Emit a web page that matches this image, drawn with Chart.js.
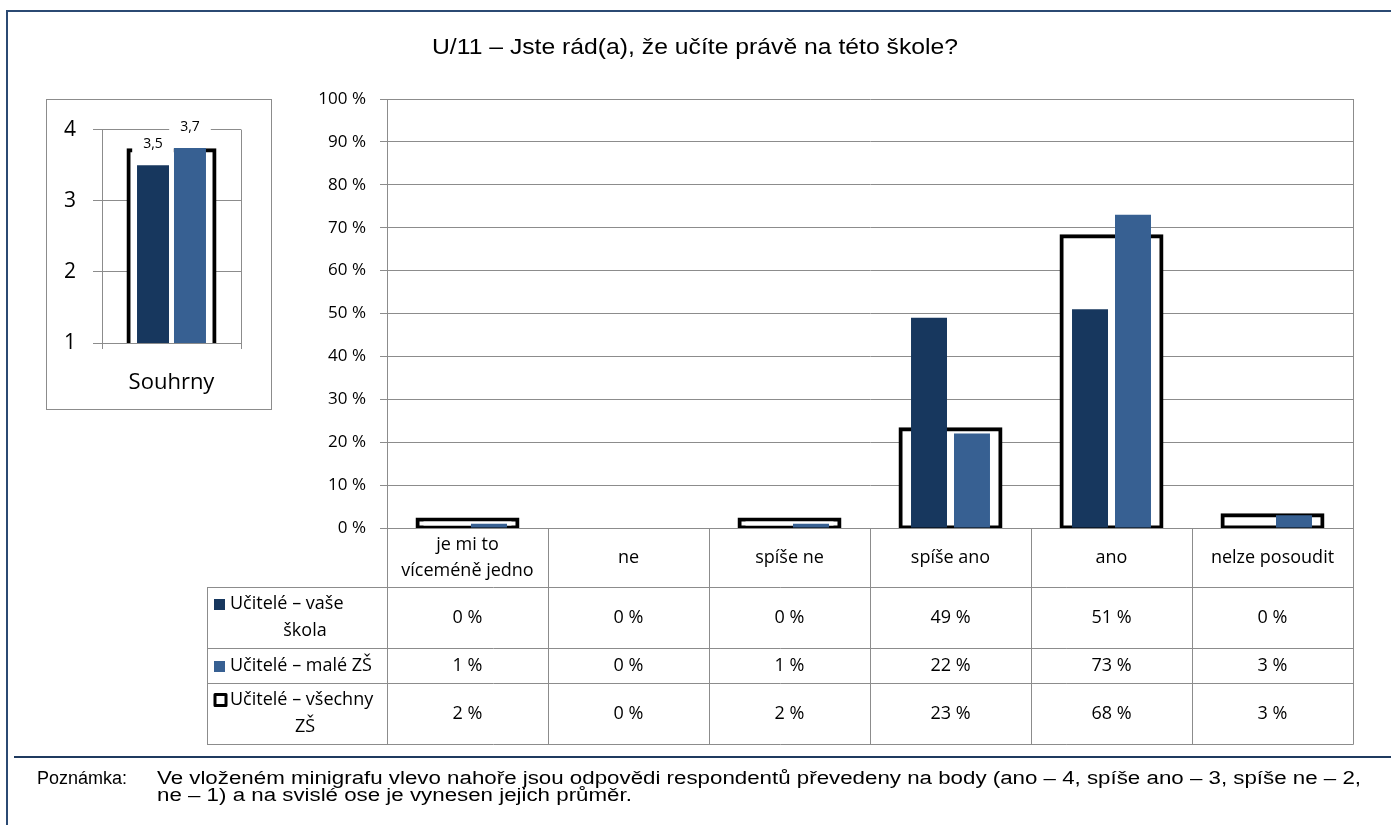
<!DOCTYPE html>
<html>
<head>
<meta charset="utf-8">
<script src="https://cdn.jsdelivr.net/npm/chart.js@4.4.1/dist/chart.umd.min.js"></script>
<style>
html,body{margin:0;padding:0;background:#fff;}
body{width:1391px;height:825px;position:relative;overflow:hidden;}
#main{position:absolute;left:0;top:0;}
#miniWrap{position:absolute;left:46px;top:99px;width:224px;height:309px;border:1px solid #8c8c8c;background:#fff;}
#mini{display:block;}
.frame{position:absolute;background:#2b4a73;}
.txt{position:absolute;white-space:nowrap;color:#000;font-family:"Liberation Sans",Arial,sans-serif;transform-origin:0 50%;}
#title{font-size:22px;line-height:28px;top:33px;}
.note{font-size:18px;line-height:17px;}
</style>
</head>
<body>
<canvas id="main" width="1391" height="825"></canvas>
<div id="miniWrap"><canvas id="mini" width="224" height="309"></canvas></div>
<div class="frame" style="left:6px;top:10px;width:2px;height:815px;"></div>
<div class="frame" style="left:6px;top:10px;width:1385px;height:2px;"></div>
<div class="frame" style="left:14px;top:756px;width:1377px;height:2px;background:#1f3a5f;"></div>
<div id="title" class="txt">U/11 – Jste rád(a), že učíte právě na této škole?</div>
<div id="n0" class="txt note" style="left:37px;top:770px;">Poznámka:</div>
<div id="n1" class="txt note" style="left:157px;top:770px;">Ve vloženém minigrafu vlevo nahoře jsou odpovědi respondentů převedeny na body (ano – 4, spíše ano – 3, spíše ne – 2,</div>
<div id="n2" class="txt note" style="left:157px;top:787px;">ne – 1) a na svislé ose je vynesen jejich průměr.</div>
<script>
// ---------------- data ----------------
const categories = [['je mi to', 'víceméně jedno'], 'ne', 'spíše ne', 'spíše ano', 'ano', 'nelze posoudit'];
const seriesNames = ['Učitelé – vaše škola', 'Učitelé – malé ZŠ', 'Učitelé – všechny ZŠ'];
const legendLines = [['Učitelé – vaše', 'škola'], ['Učitelé – malé ZŠ'], ['Učitelé – všechny', 'ZŠ']];
const vaseSkola = [0, 0, 0, 49, 51, 0];
const maleZS = [1, 0, 1, 22, 73, 3];
const vsechnyZS = [2, 0, 2, 23, 68, 3];
const yTickStep = 10;

const miniCategories = ['Souhrny'];
const miniVaseSkola = [3.5];
const miniMaleZS = [3.74];
const miniVsechnyZS = [3.71];

// ---------------- styles ----------------
const DARK = '#17375E';
const LIGHT = '#376092';
const GRID = '#8c8c8c';
const FONT = '"Open Sans", "Noto Sans", sans-serif';

// ---------------- text fitting for HTML labels ----------------
(function () {
  const c = document.createElement('canvas').getContext('2d');
  function w(el, px) { c.font = px + 'px "Liberation Sans", Arial, sans-serif'; return c.measureText(el.textContent).width; }
  const t = document.getElementById('title');
  const ts = 526 / w(t, 22);
  t.style.left = (695 - 263) + 'px';
  t.style.transform = 'scaleX(' + ts + ')';
  const ns = 1204 / w(document.getElementById('n1'), 18);
  ['n1', 'n2'].forEach(id => document.getElementById(id).style.transform = 'scaleX(' + ns + ')');
})();

function line(ctx, x1, y1, x2, y2) {
  ctx.beginPath();
  ctx.moveTo(x1, y1);
  ctx.lineTo(x2, y2);
  ctx.stroke();
}
const crisp = v => Math.round(v) + 0.5;

// ---------------- data table plugin (main chart) ----------------
const tablePlugin = {
  id: 'dataTable',
  afterDraw(chart) {
    const { ctx, chartArea: a, scales: { x } } = chart;
    const n = categories.length;
    const cw = (a.right - a.left) / n;
    const top = a.bottom;
    const rows = [top, top + 59, top + 120, top + 155, top + 216];
    const legendLeft = 207;
    ctx.save();
    ctx.strokeStyle = GRID;
    ctx.lineWidth = 1;
    line(ctx, crisp(a.right), a.top, crisp(a.right), a.bottom);
    for (let r = 1; r < rows.length; r++) line(ctx, legendLeft, crisp(rows[r]), crisp(a.right), crisp(rows[r]));
    for (let i = 0; i <= n; i++) {
      const xx = crisp(a.left + i * cw);
      line(ctx, xx, top, xx, crisp(rows[4]));
    }
    line(ctx, crisp(legendLeft), crisp(rows[1]), crisp(legendLeft), crisp(rows[4]));

    ctx.fillStyle = '#000';
    ctx.font = '18px ' + FONT;
    ctx.textAlign = 'center';
    ctx.textBaseline = 'middle';
    categories.forEach((c, i) => {
      const cx = x.getPixelForValue(i);
      const lines = Array.isArray(c) ? c : [c];
      const cy = (rows[0] + rows[1]) / 2;
      lines.forEach((t, j) => ctx.fillText(t, cx, cy + (j - (lines.length - 1) / 2) * 26));
    });
    [vaseSkola, maleZS, vsechnyZS].forEach((arr, r) => {
      const cy = (rows[r + 1] + rows[r + 2]) / 2;
      arr.forEach((v, i) => ctx.fillText(v + ' %', x.getPixelForValue(i), cy));
    });
    legendLines.forEach((lines, r) => {
      const cy = (rows[r + 1] + rows[r + 2]) / 2;
      const y0 = cy - (lines.length - 1) / 2 * 27;
      if (r < 2) {
        ctx.fillStyle = r === 0 ? DARK : LIGHT;
        ctx.fillRect(214, Math.round(y0) - 5, 11, 11);
      } else {
        ctx.strokeStyle = '#000';
        ctx.lineWidth = 3;
        ctx.lineJoin = 'round';
        ctx.strokeRect(215, Math.round(y0) - 5.5, 11, 11);
      }
      ctx.fillStyle = '#000';
      lines.forEach((t, j) => {
        if (j === 0) { ctx.textAlign = 'left'; ctx.fillText(t, 230, y0); }
        else { ctx.textAlign = 'center'; ctx.fillText(t, 305, y0 + j * 27); }
      });
    });
    ctx.restore();
  }
};

// ---------------- main chart ----------------
new Chart(document.getElementById('main'), {
  type: 'bar',
  data: {
    labels: categories.map(c => Array.isArray(c) ? c.join(' ') : c),
    datasets: [
      { label: seriesNames[0], data: vaseSkola, backgroundColor: DARK, categoryPercentage: 0.534, barPercentage: 0.837, inflateAmount: 0, order: 1 },
      { label: seriesNames[1], data: maleZS, backgroundColor: LIGHT, categoryPercentage: 0.534, barPercentage: 0.837, inflateAmount: 0, order: 1 },
      { label: seriesNames[2], data: vsechnyZS, backgroundColor: '#fff', borderColor: '#000', borderWidth: 4, borderSkipped: false, inflateAmount: 2, grouped: false, categoryPercentage: 1, barPercentage: 0.621, order: 2 }
    ]
  },
  options: {
    responsive: false,
    animation: false,
    layout: { padding: { top: 99, right: 38, left: 0, bottom: 0 } },
    scales: {
      x: { offset: true, grid: { display: false }, border: { display: false }, ticks: { display: false }, afterFit(s) { s.height = 297; } },
      y: {
        min: 0, max: 100,
        ticks: { stepSize: yTickStep, callback: v => v + ' %', font: { family: FONT, size: 17 }, color: '#000', padding: 14 },
        grid: { color: GRID, tickLength: 7, lineWidth: 1 },
        border: { color: GRID },
        afterFit(s) { s.width = 387; }
      }
    },
    plugins: { legend: { display: false }, tooltip: { enabled: false }, title: { display: false } }
  },
  plugins: [tablePlugin]
});

// ---------------- mini chart labels ----------------
const miniLabelPlugin = {
  id: 'miniLabels',
  afterDatasetsDraw(chart) {
    const { ctx } = chart;
    ctx.save();
    ctx.font = '14px ' + FONT;
    ctx.textAlign = 'center';
    ctx.textBaseline = 'middle';
    [0, 1].forEach(di => {
      const meta = chart.getDatasetMeta(di);
      meta.data.forEach((bar, j) => {
        const v = chart.data.datasets[di].data[j];
        const t = v.toFixed(1).replace('.', ',');
        const y = bar.y - 21;
        const tw = ctx.measureText(t).width;
        ctx.fillStyle = '#fff';
        ctx.fillRect(bar.x - tw / 2 - 11, y - 14, tw + 22, 28);
        ctx.fillStyle = '#000';
        ctx.fillText(t, bar.x, y);
      });
    });
    ctx.restore();
  }
};

// ---------------- mini chart ----------------
new Chart(document.getElementById('mini'), {
  type: 'bar',
  data: {
    labels: miniCategories,
    datasets: [
      { label: seriesNames[0], data: miniVaseSkola, backgroundColor: DARK, categoryPercentage: 0.532, barPercentage: 0.865, inflateAmount: 0, order: 1 },
      { label: seriesNames[1], data: miniMaleZS, backgroundColor: LIGHT, categoryPercentage: 0.532, barPercentage: 0.865, inflateAmount: 0, order: 1 },
      { label: seriesNames[2], data: miniVsechnyZS, backgroundColor: '#fff', borderColor: '#000', borderWidth: 4, borderSkipped: false, inflateAmount: 2, grouped: false, categoryPercentage: 1, barPercentage: 0.619, order: 2 }
    ]
  },
  options: {
    responsive: false,
    animation: false,
    layout: { padding: { top: 29, right: 30, left: 0, bottom: 0 } },
    scales: {
      x: {
        offset: true,
        grid: { color: GRID, tickLength: 6, offset: true },
        border: { color: GRID },
        ticks: { font: { family: FONT, size: 22 }, color: '#000', padding: 21 },
        afterFit(s) { s.height = 66; }
      },
      y: {
        min: 1, max: 4,
        ticks: { stepSize: 1, font: { family: FONT, size: 21 }, color: '#000', padding: 17 },
        grid: { color: GRID, tickLength: 9 },
        border: { color: GRID },
        afterFit(s) { s.width = 55; }
      }
    },
    plugins: { legend: { display: false }, tooltip: { enabled: false } }
  },
  plugins: [miniLabelPlugin]
});
</script>
</body>
</html>
